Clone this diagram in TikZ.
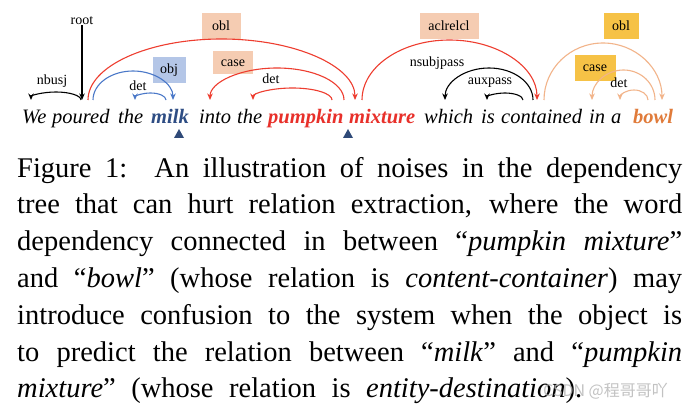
\documentclass[tikz,border=0pt]{standalone}
\usepackage{fontspec}
\setmainfont{Liberation Serif}
\newfontfamily\cjkfont{Noto Sans CJK SC}
\usetikzlibrary{arrows.meta}
\definecolor{milkblue}{HTML}{2E4D84}
\definecolor{redword}{HTML}{E8302A}
\definecolor{bowlorange}{HTML}{E07B3A}
\definecolor{arcblue}{HTML}{4A78C8}
\definecolor{arcred}{HTML}{EE3D2F}
\definecolor{arcorange}{HTML}{F2B48A}
\definecolor{boxpeach}{HTML}{F5CCB2}
\definecolor{boxblue}{HTML}{B4C6E7}
\definecolor{boxgold}{HTML}{F6C246}
\definecolor{tricol}{HTML}{2F4A78}
\definecolor{wmgray}{HTML}{B8B8B8}
\begin{document}
\begin{tikzpicture}[x=1pt,y=-1pt,
  word/.style={anchor=base west, inner sep=0pt, font=\fontsize{20.5}{24}\selectfont\itshape},
  hiword/.style={anchor=base west, inner sep=0pt, font=\fontsize{20.5}{24}\selectfont\bfseries\itshape},
  rel/.style={inner sep=0pt, font=\fontsize{14}{16}\selectfont},
  relbox/.style={rel, minimum height=26pt},
  deparc/.style={line width=1.1pt, -{Stealth[length=6.5pt,width=5.5pt]}},
  capline/.style={anchor=base west, inner sep=0pt, font=\fontsize{28.5}{36.8}\selectfont},
  marker/.style={fill=tricol, draw=none},
]
\useasboundingbox (0,0) rectangle (692,406);
\fill[white] (0,0) rectangle (692,406);

% sentence
\node[word] (w1) at (22,124) {We};
\node[word] (w2) at (52,124) {poured};
\node[word] (w3) at (118,124) {the};
\node[hiword, text=milkblue] (w4) at (151,124) {milk};
\node[word] (w5) at (199,124) {into};
\node[word] (w6) at (237,124) {the};
\node[hiword, text=redword] (w7) at (268,124) {pumpkin};
\node[hiword, text=redword] (w8) at (349,124) {mixture};
\node[word] (w9) at (424,124) {which};
\node[word] (w10) at (481,124) {is};
\node[word] (w11) at (501,124) {contained};
\node[word] (w12) at (589,124) {in};
\node[word] (w13) at (611,124) {a};
\node[hiword, text=bowlorange] (w14) at (633,124) {bowl};

% markers under milk and mixture
\fill[marker] (174,138) -- (184,138) -- (179,129) -- cycle;
\fill[marker] (343,138) -- (353,138) -- (348,129) -- cycle;

% label boxes
\node[relbox, fill=boxpeach, minimum width=39pt] (bobl1) at (221,26) {obl};
\node[relbox, fill=boxblue, minimum width=33pt] (bobj) at (169,70) {obj};
\node[rel, fill=boxpeach, minimum width=40pt, minimum height=23pt] (bcase1) at (233,63) {case};
\node[relbox, fill=boxpeach, minimum width=59pt] (bacl) at (449,26) {aclrelcl};
\node[relbox, fill=boxgold, minimum width=35pt] (bobl2) at (621,26) {obl};
\node[relbox, fill=boxgold, minimum width=41pt] (bcase2) at (595,68) {case};

% plain labels
\node[rel] (lroot) at (82,21) {root};
\node[rel] (lnbusj) at (52,81) {nbusj};
\node[rel] (ldet1) at (138,86) {det};
\node[rel] (ldet2) at (271,79) {det};
\node[rel] (lnsubj) at (437,63) {nsubjpass};
\node[rel] (laux) at (490,83) {auxpass};
\node[rel] (ldet3) at (619,83) {det};

% arc start points
\coordinate (rootE) at (82,100);
\coordinate (nbS) at (81,100);
\coordinate (oblS) at (88,100);
\coordinate (objS) at (93,100);
\coordinate (d1S) at (166,100);
\coordinate (c1S) at (344,100);
\coordinate (d2S) at (332,100);
\coordinate (aclS) at (362,100);
\coordinate (nsS) at (533,100);
\coordinate (axS) at (523,100);
\coordinate (o2S) at (544,100);
\coordinate (c2S) at (655,100);
\coordinate (d3S) at (648,100);

% arcs (half ellipses; left-to-right: 180->360, right-to-left: 0->-180)
\draw[deparc, black] (lroot.south) -- (rootE);
\draw[deparc, black] (nbS) arc[start angle=0, end angle=-180, x radius=25, y radius=8];
\draw[deparc, arcred] (oblS) arc[start angle=180, end angle=360, x radius=133.5, y radius=61];
\draw[deparc, arcblue] (objS) arc[start angle=180, end angle=360, x radius=40, y radius=29];
\draw[deparc, arcblue] (d1S) arc[start angle=0, end angle=-180, x radius=15.5, y radius=7];
\draw[deparc, arcred] (c1S) arc[start angle=0, end angle=-180, x radius=67, y radius=32];
\draw[deparc, arcred] (d2S) arc[start angle=0, end angle=-180, x radius=39.5, y radius=12];
\draw[deparc, arcred] (aclS) arc[start angle=180, end angle=360, x radius=87.5, y radius=60];
\draw[deparc, black] (nsS) arc[start angle=0, end angle=-180, x radius=44, y radius=32];
\draw[deparc, black] (axS) arc[start angle=0, end angle=-180, x radius=18, y radius=7];
\draw[deparc, arcorange] (o2S) arc[start angle=180, end angle=360, x radius=59, y radius=57];
\draw[deparc, arcorange] (c2S) arc[start angle=0, end angle=-180, x radius=31.5, y radius=30];
\draw[deparc, arcorange] (d3S) arc[start angle=0, end angle=-180, x radius=14, y radius=10];

% caption
\node[capline] (cap1) at (17,177) {\makebox[665pt][s]{Figure 1:\ \ An illustration of noises in the dependency}};
\node[capline] (cap2) at (17,213.8) {\makebox[665pt][s]{tree that can hurt relation extraction, where the word}};
\node[capline] (cap3) at (17,250.6) {\makebox[665pt][s]{dependency connected in between “\textit{pumpkin mixture}”}};
\node[capline] (cap4) at (17,287.4) {\makebox[665pt][s]{and “\textit{bowl}” (whose relation is \textit{content-container}) may}};
\node[capline] (cap5) at (17,324.2) {\makebox[665pt][s]{introduce confusion to the system when the object is}};
\node[capline] (cap6) at (17,361) {\makebox[665pt][s]{to predict the relation between “\textit{milk}” and “\textit{pumpkin}}};
\node[capline] (cap7) at (17,397.8) {\makebox[565pt][s]{\textit{mixture}” (whose relation is \textit{entity-destination}).}};

% watermark
\node[anchor=base west, inner sep=0pt, text=wmgray, opacity=0.85, font=\cjkfont\fontsize{16}{18}\selectfont] (wm) at (543,396) {CSDN @程哥哥吖};
\end{tikzpicture}
\end{document}
